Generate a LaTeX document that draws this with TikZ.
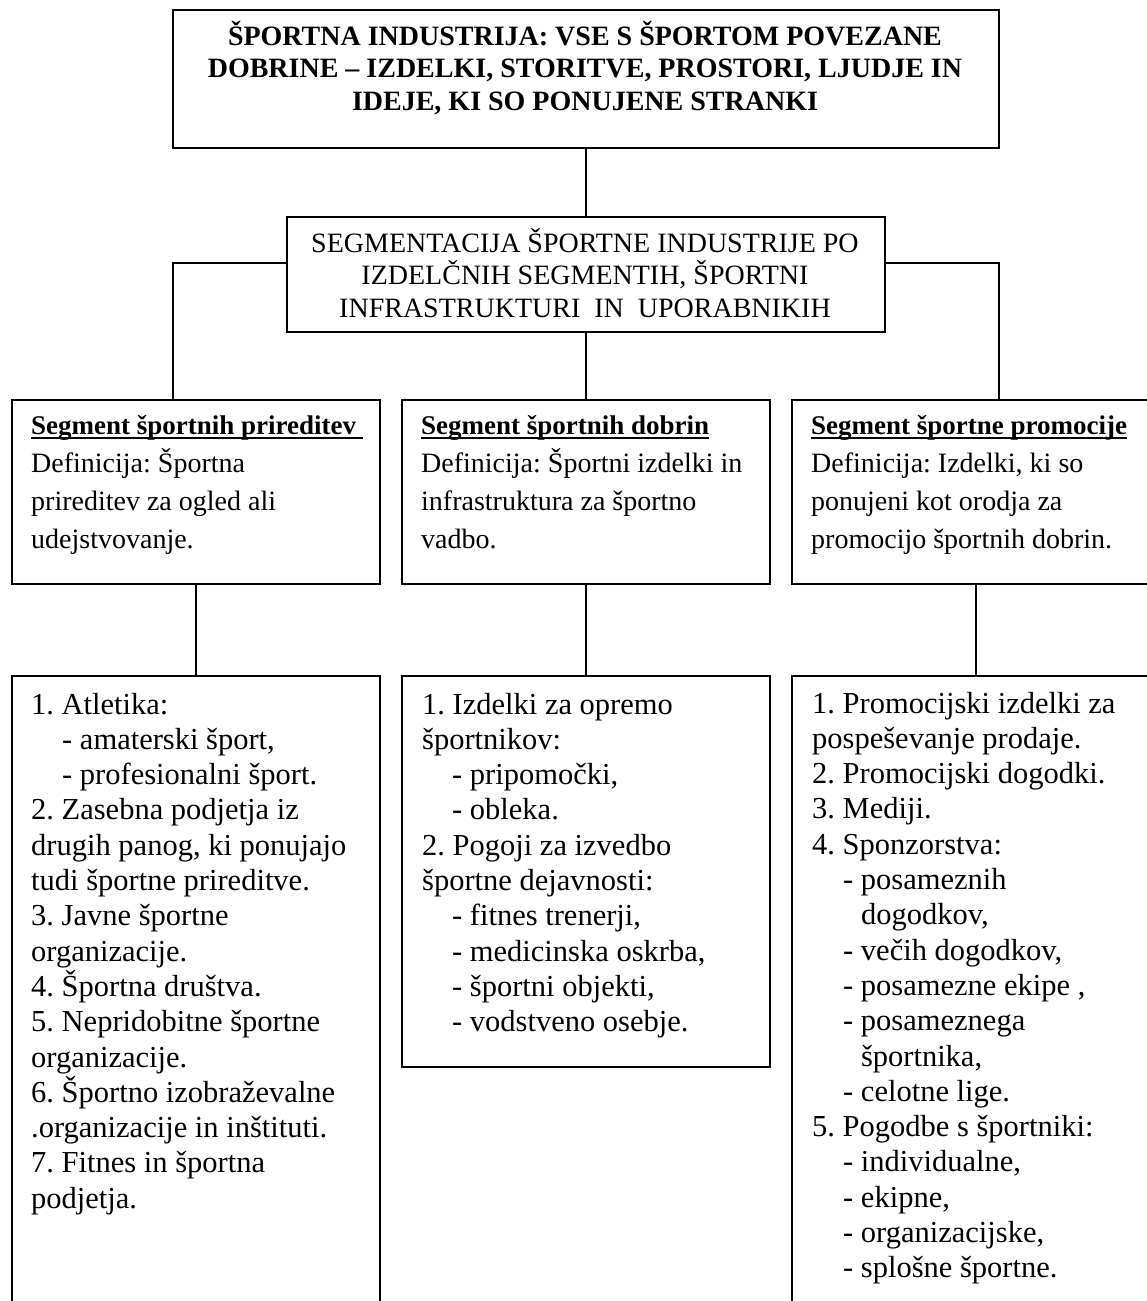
\documentclass[tikz,border=0pt]{standalone}
\usepackage{fontspec}
\setmainfont{Liberation Serif}
\frenchspacing
\newcommand\myul[1]{\leavevmode\setbox0\hbox{#1}\rlap{\rule[-4.5pt]{\wd0}{1.8pt}}\box0}
\newcommand\ind{\hspace*{31pt}}
\newcommand\indd{\hspace*{48.8pt}}
\begin{document}
\frenchspacing
\begin{tikzpicture}[x=1pt,y=-1pt,
  box/.style={draw, line width=1.8pt, inner sep=0pt, anchor=north west, minimum width=368pt},
  conn/.style={line width=1.5pt},
  txt/.style={inner sep=0pt, anchor=base west},
  ctxt/.style={inner sep=0pt, anchor=base}]
\useasboundingbox (0,0) rectangle (1147,1301);
\clip (0,0) rectangle (1147,1301);
% boxes
\node[box, minimum width=826pt, minimum height=138pt] (top) at (172,9) {};
\node[box, minimum width=598pt, minimum height=115pt] (mid) at (286,216) {};
\node[box, minimum height=184pt] (segL) at (11,399) {};
\node[box, minimum height=184pt] (segM) at (401,399) {};
\node[box, minimum height=184pt] (segR) at (791,399) {};
\node[box, minimum height=700pt] (lowL) at (11,675) {};
\node[box, minimum height=391pt] (lowM) at (401,675) {};
\node[box, minimum height=700pt] (lowR) at (791,675) {};
% connectors
\draw[conn] (top.south) -- (mid.north);
\draw[conn] ([yshift=11.5pt]mid.west) -| ([xshift=-23pt]segL.north);
\draw[conn] ([yshift=11.5pt]mid.east) -| ([xshift=23pt]segR.north);
\draw[conn] (mid.south) -- (segM.north);
\draw[conn] (segL.south) -- (lowL.north);
\draw[conn] (segM.south) -- (lowM.north);
\draw[conn] (segR.south) -- (lowR.north);
% texts
\node[ctxt] (tTop) at (585,45) {\parbox[t]{820pt}{\centering\fontsize{28}{32.5}\selectfont\bfseries
ŠPORTNA INDUSTRIJA: VSE S ŠPORTOM POVEZANE\\
DOBRINE – IZDELKI, STORITVE, PROSTORI, LJUDJE IN\\
IDEJE, KI SO PONUJENE STRANKI}};
\node[ctxt] (tMid) at (585,252) {\parbox[t]{590pt}{\centering\fontsize{28}{32.5}\selectfont
SEGMENTACIJA ŠPORTNE INDUSTRIJE PO\\
IZDELČNIH SEGMENTIH, ŠPORTNI\\
INFRASTRUKTURI\ \ IN\ \ UPORABNIKIH}};
\node[txt] (tSegL) at (31,434) {\parbox[t]{360pt}{\raggedright\fontsize{28}{38}\selectfont
{\fontsize{27}{38}\selectfont\bfseries\myul{Segment športnih prireditev\ }}\\
Definicija: Športna\\
prireditev za ogled ali\\
udejstvovanje.}};
\node[txt] (tSegM) at (421,434) {\parbox[t]{360pt}{\raggedright\fontsize{28}{38}\selectfont
{\fontsize{27}{38}\selectfont\bfseries\myul{Segment športnih dobrin}}\\
Definicija: Športni izdelki in\\
infrastruktura za športno\\
vadbo.}};
\node[txt] (tSegR) at (811,434) {\parbox[t]{360pt}{\raggedright\fontsize{28}{38}\selectfont
{\fontsize{27}{38}\selectfont\bfseries\myul{Segment športne promocije}}\\
Definicija: Izdelki, ki so\\
ponujeni kot orodja za\\
promocijo športnih dobrin.}};
\node[txt] (tLowL) at (31,714) {\parbox[t]{360pt}{\raggedright\fontsize{30.5}{35.3}\selectfont
1. Atletika:\\
\ind - amaterski šport,\\
\ind - profesionalni šport.\\
2. Zasebna podjetja iz\\
drugih panog, ki ponujajo\\
tudi športne prireditve.\\
3. Javne športne\\
organizacije.\\
4. Športna društva.\\
5. Nepridobitne športne\\
organizacije.\\
6. Športno izobraževalne\\
.organizacije in inštituti.\\
7. Fitnes in športna\\
podjetja.}};
\node[txt] (tLowM) at (422,714) {\parbox[t]{360pt}{\raggedright\fontsize{30.5}{35.3}\selectfont
1. Izdelki za opremo\\
športnikov:\\
\hspace*{30pt}- pripomočki,\\
\hspace*{30pt}- obleka.\\
2. Pogoji za izvedbo\\
športne dejavnosti:\\
\hspace*{30pt}- fitnes trenerji,\\
\hspace*{30pt}- medicinska oskrba,\\
\hspace*{30pt}- športni objekti,\\
\hspace*{30pt}- vodstveno osebje.}};
\node[txt] (tLowR) at (812,713) {\parbox[t]{360pt}{\raggedright\fontsize{30.5}{35.3}\selectfont
1. Promocijski izdelki za\\
pospeševanje prodaje.\\
2. Promocijski dogodki.\\
3. Mediji.\\
4. Sponzorstva:\\
\ind - posameznih\\
\indd dogodkov,\\
\ind - večih dogodkov,\\
\ind - posamezne ekipe ,\\
\ind - posameznega\\
\indd športnika,\\
\ind - celotne lige.\\
5. Pogodbe s športniki:\\
\ind - individualne,\\
\ind - ekipne,\\
\ind - organizacijske,\\
\ind - splošne športne.}};
\end{tikzpicture}
\end{document}
